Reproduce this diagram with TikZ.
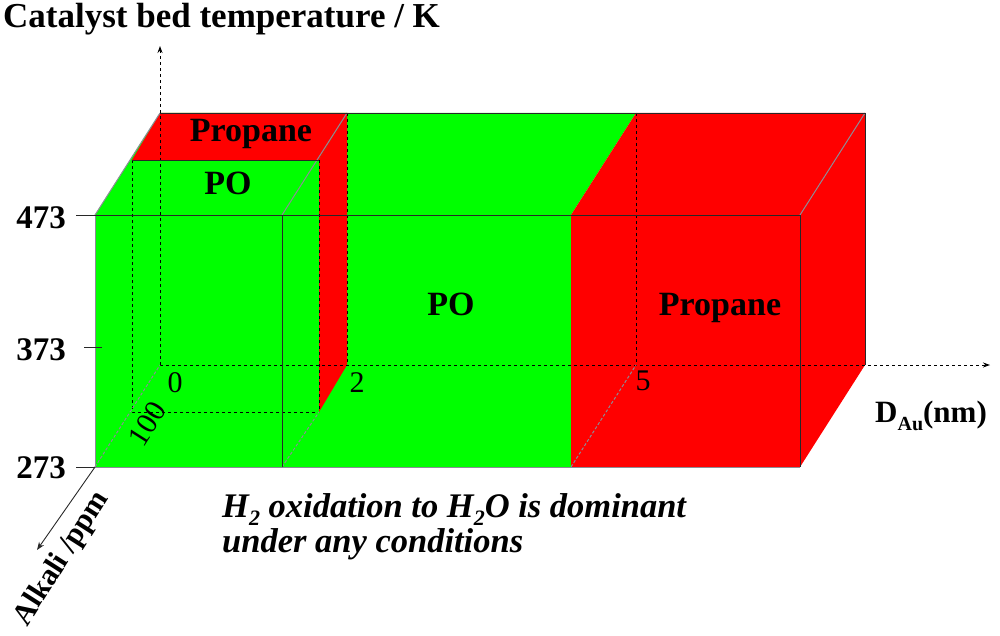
\documentclass[tikz,border=0pt]{standalone}
\usepackage{fontspec}
\setmainfont{Liberation Serif}
\usetikzlibrary{arrows.meta}
\definecolor{pgreen}{RGB}{0,255,0}
\definecolor{pred}{RGB}{255,0,0}
\definecolor{edgegray}{RGB}{140,140,150}
\definecolor{darkedge}{RGB}{40,40,40}
\tikzset{
  gfill/.style={fill=pgreen},
  rfill/.style={fill=pred},
  grayedge/.style={draw=edgegray,line width=1pt},
  graydash/.style={draw=edgegray,line width=1pt,dash pattern=on 3pt off 2pt},
  blackedge/.style={draw=darkedge,line width=0.9pt},
  hidden/.style={draw=black,line width=0.9pt,dash pattern=on 3pt off 3pt},
  axisline/.style={draw=black,line width=0.9pt,dash pattern=on 3pt off 3pt,-{Stealth[length=7pt,width=5pt]}},
  tick/.style={draw=darkedge,line width=0.9pt},
  big/.style={font=\fontsize{34}{40}\selectfont\bfseries,inner sep=0pt},
  num/.style={font=\fontsize{30}{36}\selectfont,inner sep=0pt},
}
\begin{document}
\begin{tikzpicture}[x=1pt,y=-1pt]
\useasboundingbox (0,0) rectangle (1000,636);
% front corners
\coordinate (F0b) at (95,467);  \coordinate (F0t) at (95,215);
\coordinate (F2b) at (282,467); \coordinate (F2t) at (282,215);
\coordinate (F5b) at (571,467); \coordinate (F5t) at (571,215);
\coordinate (FEb) at (800,467); \coordinate (FEt) at (800,215);
% back corners
\coordinate (B0b) at (160,365); \coordinate (B0t) at (160,113);
\coordinate (B2b) at (347,365); \coordinate (B2t) at (347,113);
\coordinate (B5b) at (636,365); \coordinate (B5t) at (636,113);
\coordinate (BEb) at (865,365); \coordinate (BEt) at (865,113);
% 100 ppm level
\coordinate (M0b) at (132,412); \coordinate (M0t) at (132,160);
\coordinate (M2b) at (319,412); \coordinate (M2t) at (319,160);
% axis ends
\coordinate (Ttip) at (160,46);
\coordinate (Dtip) at (990,365);
\coordinate (Atip) at (37,550);
\coordinate (T473a) at (76,215); \coordinate (T473b) at (95,215);
\coordinate (T373a) at (84,347); \coordinate (T373b) at (102,347);
\coordinate (T273a) at (76,467); \coordinate (T273b) at (95,467);

% fills
\path[gfill] (F0b) -- (F0t) -- (F5t) -- (F5b) -- cycle;
\path[rfill] (F5b) -- (F5t) -- (FEt) -- (FEb) -- cycle;
\path[gfill] (F0t) -- (F5t) -- (B5t) -- (B0t) -- cycle;
\path[rfill] (F5t) -- (FEt) -- (BEt) -- (B5t) -- cycle;
\path[rfill] (FEb) -- (FEt) -- (BEt) -- (BEb) -- cycle;
\path[rfill] (M0t) -- (M2t) -- (B2t) -- (B0t) -- cycle;
\path[rfill] (M2t) -- (B2t) -- (B2b) -- (M2b) -- cycle;

% hidden lines
\draw[hidden] (M0t) -- (M0b) -- (M2b);
\draw[hidden] (M2t) -- (M2b);
\draw[hidden] (B2t) -- (B2b);
\draw[hidden] (B5t) -- (B5b);
\draw[axisline] (B0b) -- (Ttip);
\draw[axisline] (B0b) -- (Dtip);

% gray edges
\draw[grayedge] (F0t) -- (B0t);
\draw[grayedge] (F2t) -- (B2t);
\draw[grayedge] (FEt) -- (BEt);
\draw[grayedge] (F0b) -- (F0t);
\draw[grayedge] (F0b) -- (FEb);
\draw[graydash] (F0b) -- (B0b);
\draw[graydash] (F2b) -- (M2b);
\draw[graydash] (F5b) -- (B5b);

% dark edges
\draw[blackedge] (F0t) -- (FEt) -- (FEb);
\draw[blackedge] (F2t) -- (F2b);
\draw[blackedge] (M0t) -- (M2t);
\draw[blackedge] (B0t) -- (BEt) -- (BEb);

% ticks
\draw[tick] (T473a) -- (T473b);
\draw[tick] (T373a) -- (T373b);
\draw[tick] (T273a) -- (T273b);
% alkali axis
\draw[draw=darkedge,line width=0.9pt,-{Stealth[length=8pt,width=6pt]}] (F0b) -- (Atip);

% labels
\node[big,anchor=base west,font=\fontsize{35}{40}\selectfont\bfseries] (title) at (3,28) {Catalyst bed temperature / K};
\node[big,anchor=base east,font=\fontsize{33}{40}\selectfont\bfseries] (l473) at (66,229) {473};
\node[big,anchor=base east,font=\fontsize{33}{40}\selectfont\bfseries] (l373) at (66,360) {373};
\node[big,anchor=base east,font=\fontsize{33}{40}\selectfont\bfseries] (l273) at (66,478) {273};
\node[big,anchor=base] (proptop) at (251,142) {Propane};
\node[big,anchor=base] (potop) at (228,195) {PO};
\node[big,anchor=base] (pomain) at (451,315) {PO};
\node[big,anchor=base] (propmain) at (720,315) {Propane};
\node[num,anchor=base] (n0) at (175,392) {0};
\node[num,anchor=base] (n2) at (357,392) {2};
\node[num,anchor=base] (n5) at (643,390) {5};
\node[num,rotate=57.5,font=\fontsize{30}{36}\selectfont] (n100) at (147,424) {100};
\node[big,rotate=57.5,font=\fontsize{30}{36}\selectfont\bfseries] (alk) at (62,559) {Alkali /ppm};
\node[big,anchor=base west,font=\fontsize{31}{36}\selectfont\bfseries] (dau) at (875,422) {D\raisebox{-0.28em}{\fontsize{20}{20}\selectfont Au}(nm)};
\node[big,anchor=base west,font=\fontsize{34.5}{40}\selectfont\bfseries\itshape] (note1) at (222,517) {H\raisebox{-0.25em}{\fontsize{22}{22}\selectfont 2} oxidation to H\raisebox{-0.25em}{\fontsize{22}{22}\selectfont 2}O is dominant};
\node[big,anchor=base west,font=\fontsize{34.5}{40}\selectfont\bfseries\itshape] (note2) at (222,552) {under any conditions};
\end{tikzpicture}
\end{document}
